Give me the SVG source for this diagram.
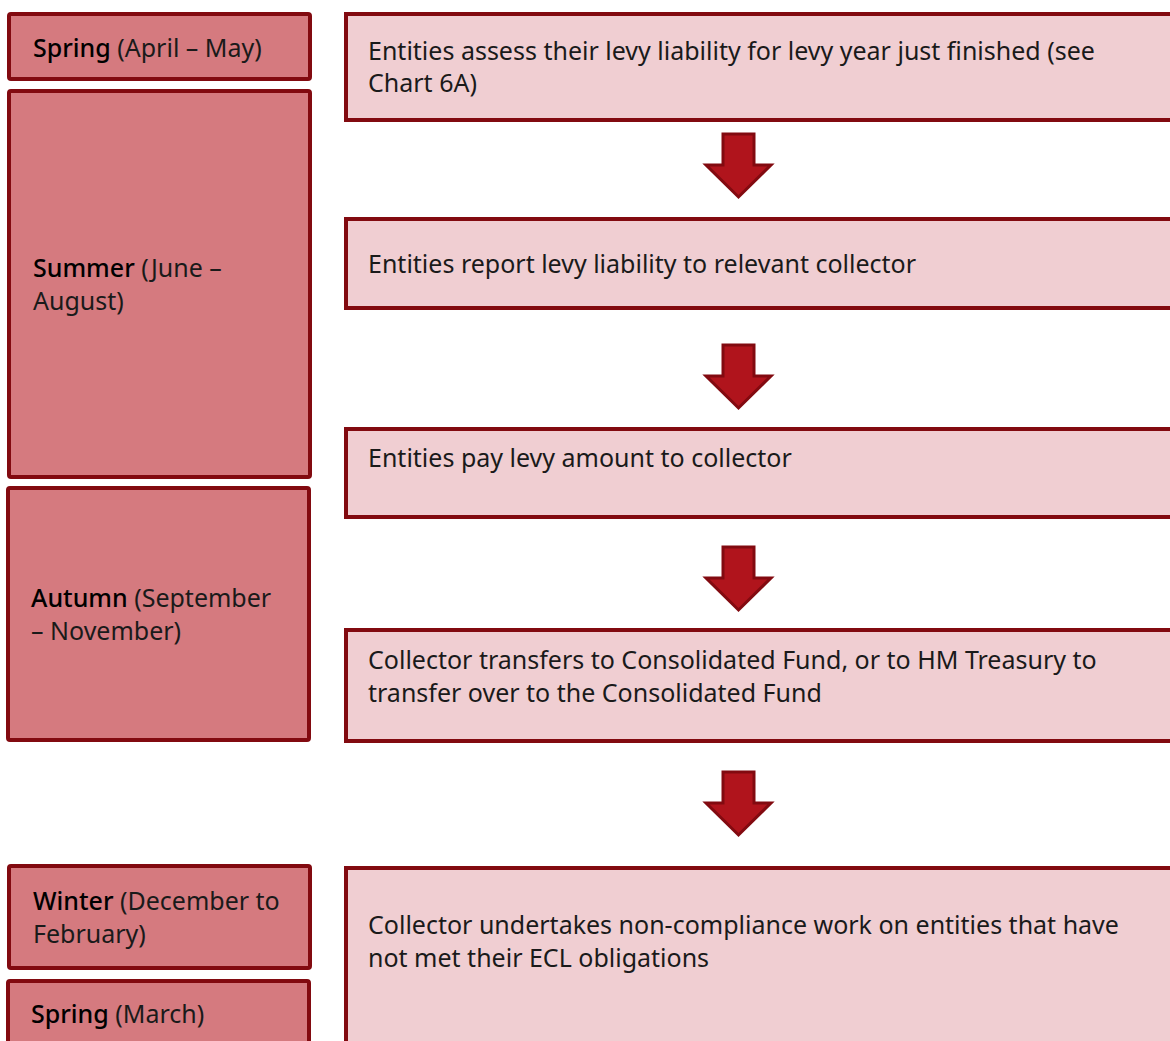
<svg xmlns="http://www.w3.org/2000/svg" width="1170" height="1041" viewBox="0 0 1170 1041">
<defs>
<style>
.season{fill:#d57a7f;stroke:#820a10;stroke-width:4}
.step{fill:#f0ced2;stroke:#820a10;stroke-width:4}
.arrow{fill:#b0141c;stroke:#820a10;stroke-width:3;stroke-linejoin:miter}
text{font-family:"Noto Sans","Open Sans","Liberation Sans",sans-serif;font-size:25px;fill:#1a1a1a}
.b{font-weight:500;fill:#000}
</style>
</defs>
<rect width="1170" height="1041" fill="#fff"/>
<g id="season-spring1"><rect class="season" x="9" y="14" width="301" height="65" rx="2"/><text x="33" y="57"><tspan class="b">Spring</tspan> (April – May)</text></g>
<g id="season-summer"><rect class="season" x="9" y="91" width="301" height="386" rx="2"/><text x="33" y="277"><tspan class="b">Summer</tspan> (June –</text><text x="33" y="310">August)</text></g>
<g id="season-autumn"><rect class="season" x="8" y="488" width="301" height="252" rx="2"/><text x="31" y="607"><tspan class="b">Autumn</tspan> (September</text><text x="31" y="640">– November)</text></g>
<g id="season-winter"><rect class="season" x="9" y="866" width="301" height="102" rx="2"/><text x="33" y="910"><tspan class="b">Winter</tspan> (December to</text><text x="33" y="943">February)</text></g>
<g id="season-spring2"><rect class="season" x="8" y="981" width="301" height="70" rx="2"/><text x="31" y="1023"><tspan class="b">Spring</tspan> (March)</text></g>
<g id="step1"><rect class="step" x="346" y="14" width="830" height="106"/><text x="368" y="60">Entities assess their levy liability for levy year just finished (see</text><text x="368" y="92">Chart 6A)</text></g>
<g id="step2"><rect class="step" x="346" y="219" width="830" height="89"/><text x="368" y="273">Entities report levy liability to relevant collector</text></g>
<g id="step3"><rect class="step" x="346" y="429" width="830" height="88"/><text x="368" y="467">Entities pay levy amount to collector</text></g>
<g id="step4"><rect class="step" x="346" y="630" width="830" height="111"/><text x="368" y="669">Collector transfers to Consolidated Fund, or to HM Treasury to</text><text x="368" y="702">transfer over to the Consolidated Fund</text></g>
<g id="step5"><rect class="step" x="346" y="868" width="830" height="190"/><text x="368" y="934">Collector undertakes non-compliance work on entities that have</text><text x="368" y="967">not met their ECL obligations</text></g>
<g id="connectors">
<path class="arrow" d="M723 134H754V165H771L738.5 197L706 165H723Z"/>
<path class="arrow" d="M723 345H754V376H771L738.5 408L706 376H723Z"/>
<path class="arrow" d="M723 547H754V578H771L738.5 610L706 578H723Z"/>
<path class="arrow" d="M723 772H754V803H771L738.5 835L706 803H723Z"/>
</g>
</svg>
